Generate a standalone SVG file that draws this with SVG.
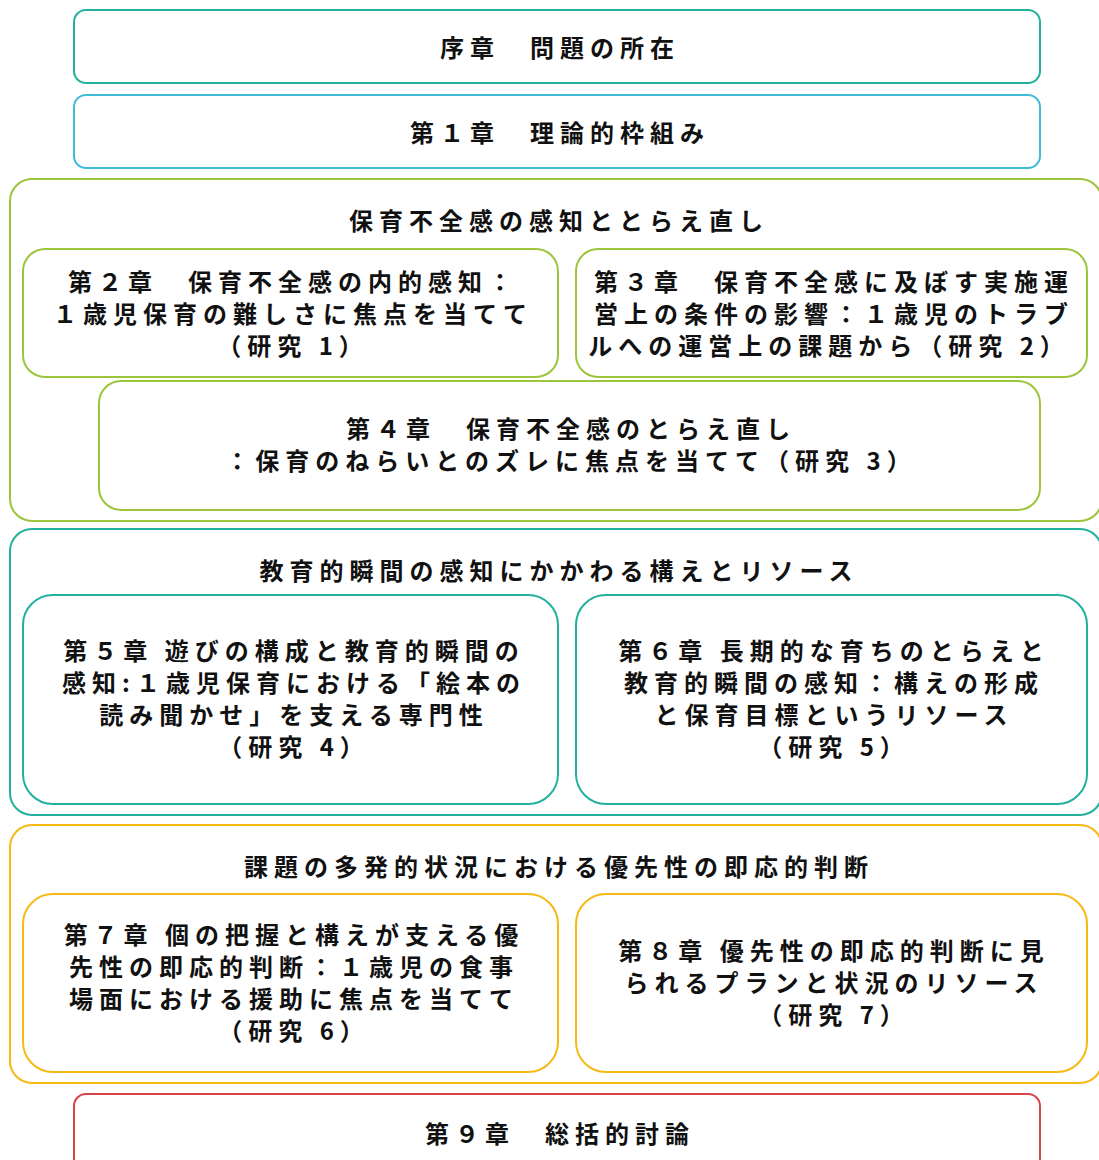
<svg xmlns="http://www.w3.org/2000/svg" width="1099" height="1160" viewBox="0 0 1099 1160">
<style>
.b{fill:#fff;stroke-width:2}
.teal{stroke:#22b09f}
.blue{stroke:#40bcd6}
.green{stroke:#9cc53b}
.yel{stroke:#f6b915}
.red{stroke:#d9434a}
text{font-family:"Noto Sans CJK JP","Noto Sans",sans-serif;font-weight:bold;font-size:24px;letter-spacing:6px;fill:#111;text-anchor:middle}
</style>
<rect width="1099" height="1160" fill="#fff"/>
<g id="connectors"></g>
<g id="ch0"><rect class="b teal" x="74" y="10" width="966" height="73" rx="12"/><text x="560" y="57">序章　問題の所在</text></g>
<g id="ch1"><rect class="b blue" x="74" y="95" width="966" height="73" rx="12"/><text x="560" y="142">第１章　理論的枠組み</text></g>
<g id="groupA"><rect class="b green" x="10" y="179" width="1092" height="342" rx="22"/><text x="559" y="230">保育不全感の感知ととらえ直し</text></g>
<g id="ch2"><rect class="b green" x="23" y="249" width="535" height="128" rx="22"/><text x="293" y="291">第２章　保育不全感の内的感知：</text><text x="293" y="323">１歳児保育の難しさに焦点を当てて</text><text x="293" y="355">（研究 1）</text></g>
<g id="ch3"><rect class="b green" x="576" y="249" width="511" height="128" rx="22"/><text x="834" y="291">第３章　保育不全感に及ぼす実施運</text><text x="834" y="323">営上の条件の影響：１歳児のトラブ</text><text x="829" y="355">ルへの運営上の課題から（研究 2）</text></g>
<g id="ch4"><rect class="b green" x="99" y="381" width="941" height="129" rx="22"/><text x="571" y="438">第４章　保育不全感のとらえ直し</text><text x="571" y="470">：保育のねらいとのズレに焦点を当てて（研究 3）</text></g>
<g id="groupB"><rect class="b teal" x="10" y="529" width="1092" height="286" rx="22"/><text x="559" y="580">教育的瞬間の感知にかかわる構えとリソース</text></g>
<g id="ch5"><rect class="b teal" x="23" y="595" width="535" height="209" rx="30"/><text x="294" y="660">第５章 遊びの構成と教育的瞬間の</text><text x="294" y="692">感知:１歳児保育における「絵本の</text><text x="294" y="724">読み聞かせ」を支える専門性</text><text x="294" y="756">（研究 4）</text></g>
<g id="ch6"><rect class="b teal" x="576" y="595" width="511" height="209" rx="30"/><text x="834" y="660">第６章 長期的な育ちのとらえと</text><text x="834" y="692">教育的瞬間の感知：構えの形成</text><text x="834" y="724">と保育目標というリソース</text><text x="834" y="756">（研究 5）</text></g>
<g id="groupC"><rect class="b yel" x="10" y="825" width="1092" height="258" rx="22"/><text x="559" y="876">課題の多発的状況における優先性の即応的判断</text></g>
<g id="ch7"><rect class="b yel" x="23" y="894" width="535" height="178" rx="30"/><text x="294" y="944">第７章 個の把握と構えが支える優</text><text x="294" y="976">先性の即応的判断：１歳児の食事</text><text x="294" y="1008">場面における援助に焦点を当てて</text><text x="294" y="1040">（研究 6）</text></g>
<g id="ch8"><rect class="b yel" x="576" y="894" width="511" height="178" rx="30"/><text x="834" y="960">第８章 優先性の即応的判断に見</text><text x="834" y="992">られるプランと状況のリソース</text><text x="834" y="1024">（研究 7）</text></g>
<g id="ch9"><rect class="b red" x="74" y="1094" width="966" height="80" rx="12"/><text x="560" y="1143">第９章　総括的討論</text></g>
</svg>
